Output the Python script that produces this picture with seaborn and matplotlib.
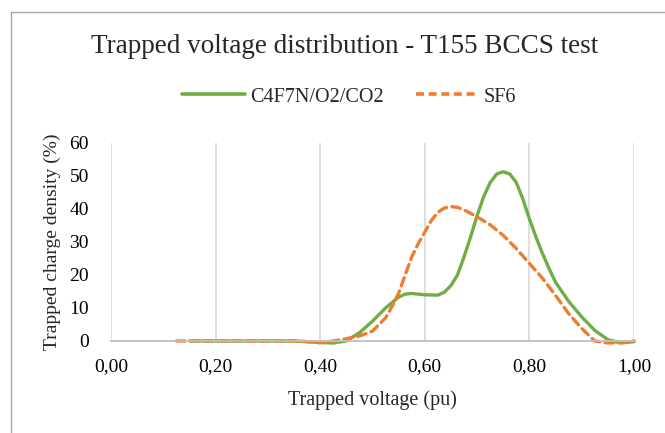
import pandas as pd
import matplotlib.pyplot as plt
import seaborn as sns
from matplotlib.lines import Line2D
from matplotlib.ticker import FuncFormatter

# valeurs
volt_c4 = [0.150, 0.200, 0.250, 0.300, 0.350, 0.375, 0.400, 0.425, 0.450, 0.475,
           0.500, 0.525, 0.550, 0.5625, 0.575, 0.600, 0.625, 0.6375, 0.650, 0.6625,
           0.675, 0.6875, 0.700, 0.7125, 0.725, 0.7375, 0.750, 0.7625, 0.775, 0.7875,
           0.800, 0.8125, 0.825, 0.8375, 0.850, 0.875, 0.900, 0.925, 0.950, 0.975, 1.000]
dens_c4 = [0.0, 0.0, 0.0, 0.0, 0.0, -0.2, -0.5, -0.6, 0.0, 2.5,
           6.0, 10.0, 13.3, 14.2, 14.4, 14.0, 13.9, 14.8, 16.8, 20.0,
           25.5, 31.5, 38.0, 43.7, 48.0, 50.6, 51.3, 50.6, 48.0, 43.0,
           37.0, 31.5, 26.5, 22.0, 17.8, 12.0, 7.3, 3.2, 0.4, -0.6, -0.2]

volt_sf6 = [0.125, 0.150, 0.200, 0.250, 0.300, 0.350, 0.375, 0.400, 0.425, 0.450,
            0.475, 0.500, 0.525, 0.5375, 0.550, 0.5625, 0.575, 0.5875, 0.600, 0.6125,
            0.625, 0.6375, 0.650, 0.6625, 0.675, 0.6875, 0.700, 0.725, 0.750, 0.775,
            0.800, 0.825, 0.850, 0.875, 0.900, 0.925, 0.950, 0.975, 1.000]
dens_sf6 = [0.0, 0.0, 0.0, 0.0, 0.0, 0.0, -0.2, -0.5, 0.0, 0.7,
            1.5, 3.0, 7.0, 10.5, 14.5, 20.0, 25.5, 29.5, 33.0, 36.5,
            39.0, 40.3, 40.7, 40.5, 39.7, 38.7, 37.6, 35.2, 32.0, 28.0,
            23.5, 19.0, 13.8, 8.3, 3.8, 0.0, -0.6, -0.5, 0.0]

series_names = ["C4F7N/O2/CO2", "SF6"]
x_ticks = [0.0, 0.2, 0.4, 0.6, 0.8, 1.0]
y_ticks = [0, 10, 20, 30, 40, 50, 60]

df_c4 = pd.DataFrame({"v": volt_c4, "d": dens_c4})
df_sf6 = pd.DataFrame({"v": volt_sf6, "d": dens_sf6})

sns.set_style("white")
plt.rcParams['font.family'] = ['Liberation Serif', 'DejaVu Serif']

fig = plt.figure(figsize=(6.65, 4.33), dpi=100)
ax = fig.add_axes([0.1669, 0.2125, 0.7865, 0.4573])

green = "#70AD47"
orange = "#ED7D31"

sns.lineplot(data=df_c4, x="v", y="d", ax=ax, color=green, linewidth=2.4,
             label=series_names[0])
sns.lineplot(data=df_sf6, x="v", y="d", ax=ax, color=orange, linewidth=2.4,
             label=series_names[1])
ax.lines[0].set_solid_joinstyle("round")
ax.lines[1].set_dashes((2.6, 1.6))
ax.lines[1].set_dash_capstyle("round")
ax.lines[1].set_dash_joinstyle("round")

ax.set_xlim(0, 1.0)
ax.set_ylim(0, 60)
ax.set_xticks(x_ticks)
ax.set_yticks(y_ticks)
ax.xaxis.set_major_formatter(FuncFormatter(lambda v, p: f"{v:.2f}".replace(".", ",")))
ax.tick_params(axis="both", labelsize=14, length=0, colors="black")
ax.tick_params(axis="y", pad=16)
ax.tick_params(axis="x", pad=12)

# grille verticale
ax.grid(axis="x", color="#D9D9D9", linewidth=1.2)
ax.grid(axis="y", visible=False)
for s in ["top", "right", "left"]:
    ax.spines[s].set_visible(False)
ax.spines["bottom"].set_color("#BFBFBF")
ax.spines["bottom"].set_linewidth(1.3)
for ln in ax.lines:
    ln.set_clip_on(False)

ax.set_xlabel("Trapped voltage (pu)", fontsize=14.5, labelpad=11)
ax.set_ylabel("Trapped charge density (%)", fontsize=14, labelpad=6)

fig.text(0.518, 0.893, "Trapped voltage distribution - T155 BCCS test",
         fontsize=19.5, ha="center", va="center")

handles = [Line2D([], [], color=green, linewidth=2.6),
           Line2D([], [], color=orange, linewidth=2.6, dashes=(2.2, 1.3))]
ax.legend(handles, series_names, loc="center", bbox_to_anchor=(0.525, 0.776),
          bbox_transform=fig.transFigure, ncol=2, frameon=False, fontsize=14.5,
          handlelength=3.1, columnspacing=1.6, handletextpad=0.25)

# bordure du graphique
fig.add_artist(Line2D([11 / 665, 11 / 665], [0, 1 - 12 / 433], transform=fig.transFigure,
                      color="#A6A6A6", linewidth=1.0))
fig.add_artist(Line2D([11 / 665, 1], [1 - 12 / 433, 1 - 12 / 433], transform=fig.transFigure,
                      color="#A6A6A6", linewidth=1.0))

plt.savefig("out.png", dpi=100)
